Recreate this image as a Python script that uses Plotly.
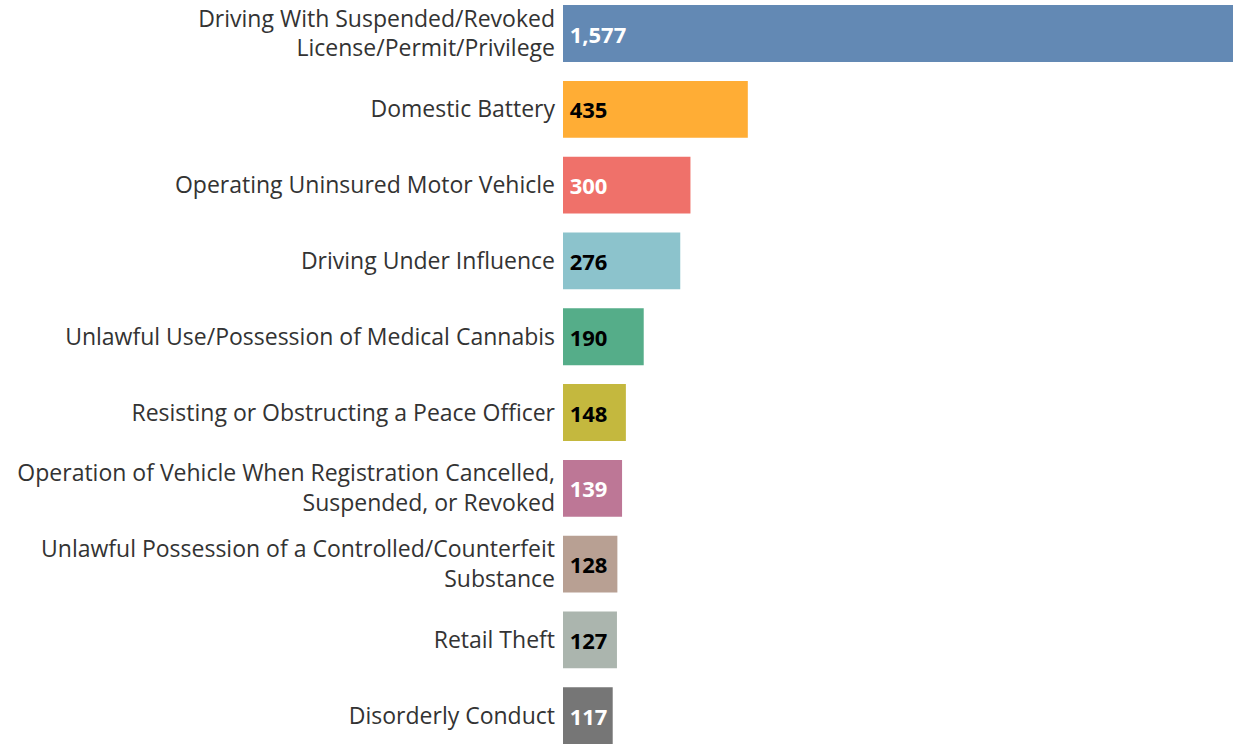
import plotly.graph_objects as go

categories = [
    "Driving With Suspended/Revoked<br>License/Permit/Privilege",
    "Domestic Battery",
    "Operating Uninsured Motor Vehicle",
    "Driving Under Influence",
    "Unlawful Use/Possession of Medical Cannabis",
    "Resisting or Obstructing a Peace Officer",
    "Operation of Vehicle When Registration Cancelled,<br>Suspended, or Revoked",
    "Unlawful Possession of a Controlled/Counterfeit<br>Substance",
    "Retail Theft",
    "Disorderly Conduct",
]
values = [1577, 435, 300, 276, 190, 148, 139, 128, 127, 117]
bar_colors = ["#6389B4", "#FFAD35", "#EF716A", "#8CC3CC", "#55AD89",
              "#C4B83E", "#BD7796", "#B8A093", "#ABB5AE", "#767676"]
text_colors = ["white", "black", "white", "black", "black",
               "black", "white", "black", "black", "white"]

idx = list(range(len(categories)))

fig = go.Figure(go.Bar(
    x=values,
    y=idx,
    orientation="h",
    marker=dict(color=bar_colors, line=dict(width=0)),
    width=0.75,
    texttemplate="\u2009<b>%{x:,}</b>",
    textposition="inside",
    insidetextanchor="start",
    textangle=0,
    constraintext="none",
    textfont=dict(size=22, color=text_colors, family="Open Sans"),
    cliponaxis=False,
    hoverinfo="skip",
))

fig.update_layout(
    width=1236, height=744,
    margin=dict(l=563, r=0, t=0, b=0),
    paper_bgcolor="white", plot_bgcolor="white",
    showlegend=False,
    font=dict(family="Open Sans", size=20, color="#333333"),
    xaxis=dict(range=[0, 1577 * 673 / 670], visible=False, showgrid=False,
               zeroline=False, automargin=False),
    yaxis=dict(
        range=[9.373, -0.442],
        tickmode="array", tickvals=idx, ticktext=categories,
        showgrid=False, zeroline=False, showline=False,
        ticks="", ticklabelstandoff=7, automargin=False,
        ticklabeloverflow="allow",
        tickfont=dict(size=23, color="#333333", family="Open Sans"),
    ),
)

fig.write_html(
    "out.html",
    config={"displayModeBar": False},
    post_script="document.body.style.margin='0';document.body.style.overflow='hidden';",
)
